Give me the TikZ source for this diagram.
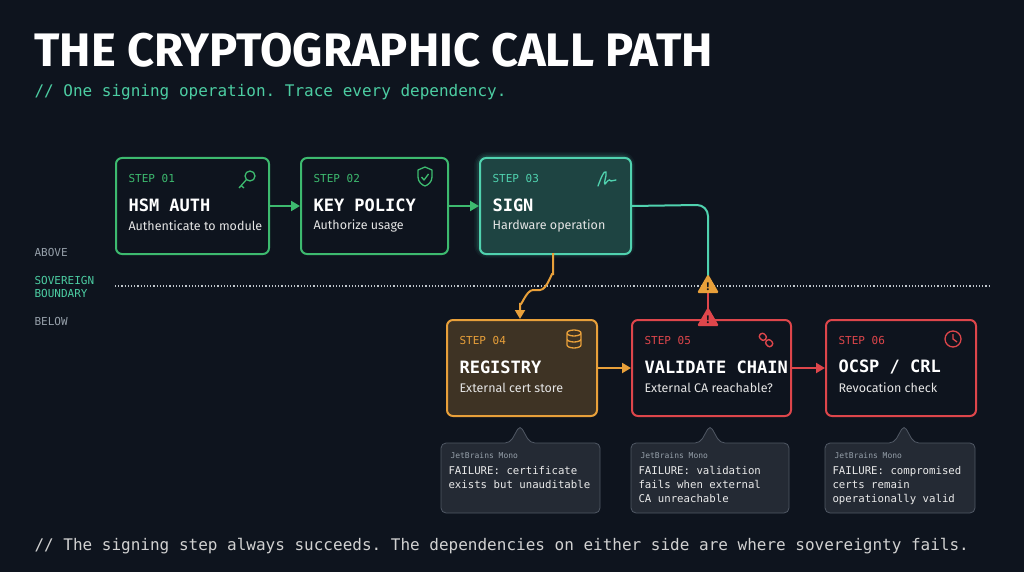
\documentclass[tikz,border=0pt]{standalone}
\usepackage{fontspec}
\setmainfont{Fira Sans}
\setmonofont{DejaVu Sans Mono}
\usetikzlibrary{arrows.meta,positioning}
\definecolor{bgc}{RGB}{14,20,30}
\definecolor{grn}{RGB}{61,186,111}
\definecolor{teal}{RGB}{80,210,175}
\definecolor{amb}{RGB}{232,160,58}
\definecolor{rd}{RGB}{222,70,75}
\definecolor{callfill}{RGB}{36,42,52}
\definecolor{calledge}{RGB}{80,88,100}
\definecolor{dim}{RGB}{150,160,170}
\tikzset{
  stepbox/.style={draw, line width=2pt, rounded corners=6pt, minimum width=#1, minimum height=96pt, anchor=north west},
  steptag/.style={font=\ttfamily\fontsize{11}{11}\selectfont, anchor=west},
  stepname/.style={font=\ttfamily\bfseries\fontsize{17}{17}\selectfont, text=white, anchor=west},
  stepsub/.style={font=\fontsize{12.5}{12.5}\selectfont, text=white!90!black, anchor=west},
  callout/.style={fill=callfill, draw=calledge, line width=.8pt, rounded corners=5pt},
  flow/.style={line width=2pt, -{Triangle[length=9pt,width=10pt]}},
}
\begin{document}
\begin{tikzpicture}[x=1pt, y=-1pt]
    \useasboundingbox[fill=bgc] (0,0) rectangle (1024,572);
    % title
    \node[anchor=west, text=white, font=\bfseries\fontsize{47}{47}\selectfont] (title) at (31,50) {THE CRYPTOGRAPHIC CALL PATH};
    \node[anchor=west, text=teal!80!grn, font=\ttfamily\fontsize{16}{16}\selectfont] (sub) at (31,92) {// One signing operation. Trace every dependency.};
    % boundary
    \draw[dim!60, line width=1.2pt, dotted] (115,286) coordinate (bl) -- (990,286) coordinate (br);
    \node[steptag, text=dim] (above) at (31,252) {ABOVE};
    \node[steptag, text=teal!80!grn, align=left] (sov) at (31,287) {SOVEREIGN\\[2pt]BOUNDARY};
    \node[steptag, text=dim] (below) at (31,321) {BELOW};
    % steps above
    \node[stepbox=153pt, draw=grn] (s1) at (115,157) {};
    \node[stepbox=147pt, draw=grn] (s2) at (300,157) {};
    \foreach \g/\o in {10/.05, 7/.07, 4/.1}
        \draw[teal, line width=\g pt, opacity=\o, rounded corners=8pt] (479,157) rectangle (630,253);
    \node[stepbox=151pt, draw=teal, fill=teal!25!bgc] (s3) at (479,157) {};
    % steps below
    \node[stepbox=150pt, draw=amb, fill=amb!22!bgc] (s4) at (446,319) {};
    \node[stepbox=159pt, draw=rd] (s5) at (631,319) {};
    \node[stepbox=150pt, draw=rd] (s6) at (825,319) {};
    % texts
    \foreach \n/\t/\c/\name/\sub in {s1/01/grn/HSM AUTH/Authenticate to module, s2/02/grn/KEY POLICY/Authorize usage, s3/03/teal/SIGN/Hardware operation, s4/04/amb/REGISTRY/External cert store, s5/05/rd/VALIDATE CHAIN/External CA reachable?, s6/06/rd/{OCSP / CRL}/Revocation check}{
        \node[steptag, text=\c] at ([xshift=10pt,yshift=-21pt]\n.north west) {STEP \t};
        \node[stepname] at ([xshift=10pt,yshift=-48pt]\n.north west) {\name};
        \node[stepsub] at ([xshift=10pt,yshift=-69pt]\n.north west) {\sub};
    }
    % icons
    \draw[grn, line width=1.3pt] (250,176) circle (5) (246.5,179.5) -- (239,188) (241,185.5) -- (244,188);
    \draw[grn, line width=1.3pt, line join=round] (418,170) -- (425,167) -- (432,170) -- (432,177) .. controls (432,182) and (428,185) .. (425,186) .. controls (422,185) and (418,182) .. (418,177) -- cycle (421.5,177) -- (424,180) -- (428.5,174);
    \draw[teal, line width=1.3pt, line cap=round] (598,186) .. controls (601,178) and (604,170) .. (606,172) .. controls (607,176) and (603,184) .. (605,184) .. controls (607,182) and (609,178) .. (611,181) -- (616,180);
    \draw[amb, line width=1.3pt] (574,333) ellipse (7 and 3) (567,333) -- (567,345) arc (180:0:7 and 3) -- (581,333) (567,339) arc (180:0:7 and 3);
    \draw[rd, line width=1.4pt, rounded corners=2.5pt, rotate around={-45:(766,340)}] (758,337) rectangle (765,343) (767,337) rectangle (774,343);
    \draw[rd, line width=1.3pt] (953,339) circle (8) (953,334) -- (953,339) -- (957,342);
    % connectors
    \draw[flow, grn] (s1) -- (s2);
    \draw[flow, grn] (s2) -- (s3);
    \draw[flow, amb] (553,253) -- (553,275) to[out=90,in=0] (540,290) -- (533,290) to[out=180,in=270] (520,303) -- (s4.north -| 520,0);
    \draw[line width=2pt, teal] (s3.east) -- (697,205) to[out=0,in=90] (708,216) -- (708,276) coordinate (w1);
    \draw[line width=2pt, rd] (w1) -- (s5.north -| w1);
    \draw[flow, amb] (s4) -- (s5);
    \draw[flow, rd] (s5) -- (s6);
    % warnings
    \foreach \y/\c in {285/amb, 318/rd}{
        \fill[\c, rounded corners=1.5pt] (708,\y-11) -- (719,\y+8) -- (697,\y+8) -- cycle;
        \node[text=bgc, font=\bfseries\fontsize{11}{11}\selectfont] at (708,\y+2) {!};
    }
    % failure callouts
    \foreach \n/\w/\l/\a/\b/\cc in {s4/159/441/certificate/exists but unauditable/, s5/158/631/validation/fails when external/CA unreachable, s6/150/825/compromised/certs remain/operationally valid}{
        \draw[callout] (\l,443) -- (\l+69,443) -- (\l+79,425) -- (\l+89,443) -- (\l+\w,443) -- (\l+\w,513) -- (\l,513) -- cycle;
        \node[anchor=north west, align=left, font=\ttfamily\fontsize{10.7}{14}\selectfont, text=white!92!black] at (\l+4,463) {FAILURE: \a\\\b\\\cc};
        \node[anchor=west, text=dim, font=\ttfamily\fontsize{8}{8}\selectfont] at (\l+6,456) {JetBrains Mono};
    }
    \node[anchor=west, text=white!82!black, font=\ttfamily\fontsize{16}{16}\selectfont] (foot) at (31,546) {// The signing step always succeeds. The dependencies on either side are where sovereignty fails.};
\end{tikzpicture}
\end{document}
